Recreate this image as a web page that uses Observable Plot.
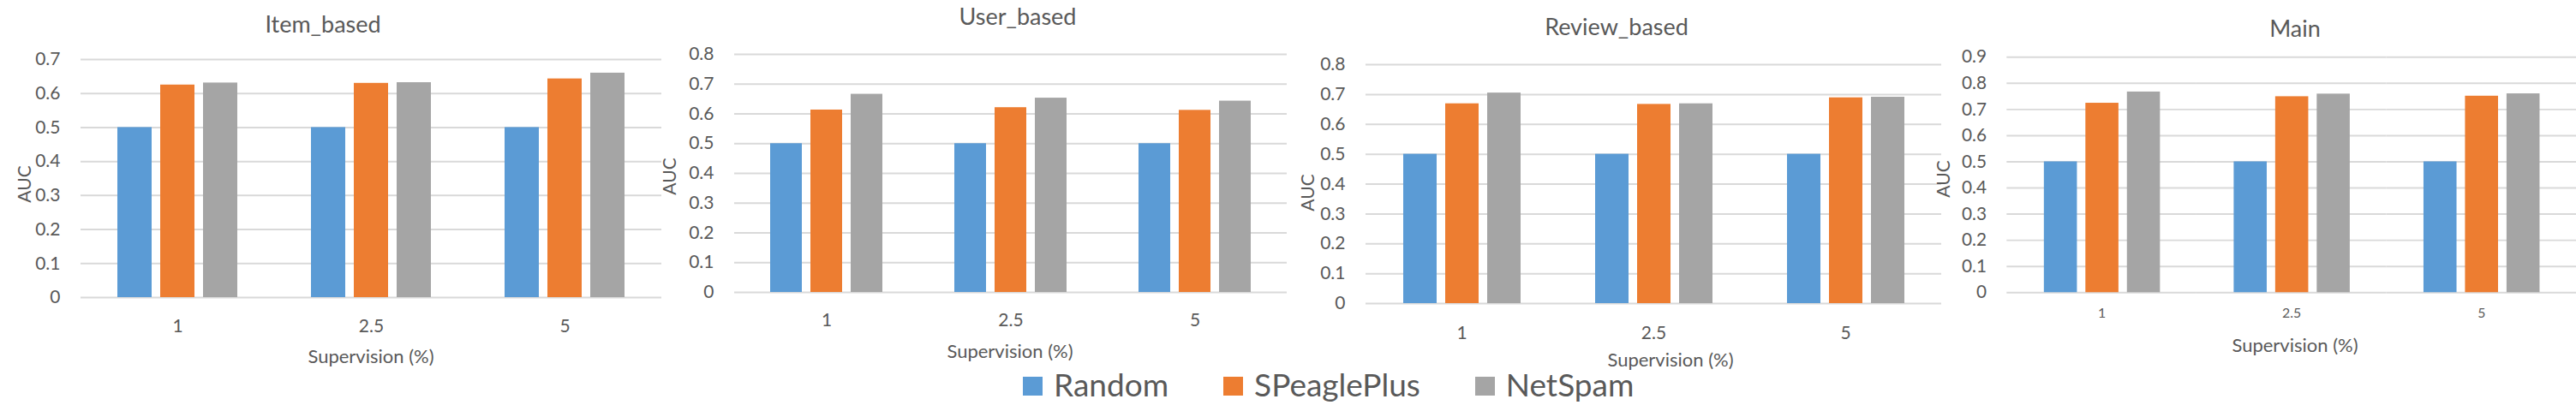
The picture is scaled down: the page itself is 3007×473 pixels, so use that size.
<!DOCTYPE html>
<html>
<head>
<meta charset="utf-8">
<script src="https://cdn.jsdelivr.net/npm/d3@7"></script>
<script src="https://cdn.jsdelivr.net/npm/@observablehq/plot@0.6"></script>
<style>
  html, body { margin: 0; padding: 0; background: #fff; }
  #page { position: relative; width: 3007px; height: 473px; overflow: hidden;
          font-family: Lato, "Open Sans", sans-serif; color: #595959; }
  .panel { position: absolute; top: 0; }
  .lbl { position: absolute; white-space: nowrap; line-height: 1; transform: translate(-50%, -50%); }
  .title { font-size: 27px; }
  .xlab { font-size: 22px; }
  .ylab { font-size: 21px; transform: translate(-50%, -50%) rotate(-90deg); }
  #legend { position: absolute; left: 1194px; top: 430px; display: flex; gap: 64px; }
  #legend .item { display: flex; align-items: flex-start; }
  #legend .sw { width: 23px; height: 22px; margin-top: 10px; margin-right: 13px; }
  #legend .txt { font-size: 37px; line-height: 37px; }
</style>
</head>
<body>
<div id="page"></div>
<script>
// Categories and series
const supervision = ["1", "2.5", "5"];
const methods = ["Random", "SPeaglePlus", "NetSpam"];
const methodColors = ["#5b9bd5", "#ed7d31", "#a5a5a5"];
const panelTitles = ["Item_based", "User_based", "Review_based", "Main"];
const xAxisTitle = "Supervision (%)";
const yAxisTitle = "AUC";

// AUC per supervision level (1, 2.5, 5)
const itemRandom      = [0.5, 0.5, 0.5];
const itemSPeaglePlus = [0.625, 0.630, 0.643];
const itemNetSpam     = [0.631, 0.632, 0.660];

const userRandom      = [0.5, 0.5, 0.5];
const userSPeaglePlus = [0.613, 0.621, 0.612];
const userNetSpam     = [0.666, 0.653, 0.643];

const reviewRandom      = [0.5, 0.5, 0.5];
const reviewSPeaglePlus = [0.669, 0.667, 0.689];
const reviewNetSpam     = [0.705, 0.669, 0.691];

const mainRandom      = [0.5, 0.5, 0.5];
const mainSPeaglePlus = [0.724, 0.749, 0.751];
const mainNetSpam     = [0.767, 0.759, 0.760];

// Y-axis tick values
const itemTicks   = [0, 0.1, 0.2, 0.3, 0.4, 0.5, 0.6, 0.7];
const userTicks   = [0, 0.1, 0.2, 0.3, 0.4, 0.5, 0.6, 0.7, 0.8];
const reviewTicks = [0, 0.1, 0.2, 0.3, 0.4, 0.5, 0.6, 0.7, 0.8];
const mainTicks   = [0, 0.1, 0.2, 0.3, 0.4, 0.5, 0.6, 0.7, 0.8, 0.9];

// Panel layout (page pixels)
const layouts = [
  { left: 0,    width: 780, ml: 94, mr: 8, mt: 69, mb: 126, xFont: 21, xPad: 26,
    title: [377, 26.5], xlab: [433, 416], ylab: [27, 215] },
  { left: 780,  width: 730, ml: 76, mr: 8, mt: 63, mb: 132, xFont: 21, xPad: 25,
    title: [1188, 18], xlab: [1179, 410], ylab: [780, 206] },
  { left: 1510, width: 765, ml: 83, mr: 8, mt: 75, mb: 119, xFont: 21, xPad: 27,
    title: [1887, 29.7], xlab: [1950, 420], ylab: [1525, 225] },
  { left: 2280, width: 735, ml: 63, mr: 0, mt: 67, mb: 128, xFont: 16, xPad: 18,
    title: [2679, 32], xlab: [2679, 403], ylab: [2267, 209] }
];

const panelSeries = [
  [itemRandom, itemSPeaglePlus, itemNetSpam],
  [userRandom, userSPeaglePlus, userNetSpam],
  [reviewRandom, reviewSPeaglePlus, reviewNetSpam],
  [mainRandom, mainSPeaglePlus, mainNetSpam]
];
const panelTicks = [itemTicks, userTicks, reviewTicks, mainTicks];

const page = document.getElementById("page");

function addLabel(cls, text, [x, y]) {
  const d = document.createElement("div");
  d.className = "lbl " + cls;
  d.textContent = text;
  d.style.left = x + "px";
  d.style.top = y + "px";
  page.appendChild(d);
}

panelTitles.forEach((title, p) => {
  const cfg = layouts[p];
  const series = panelSeries[p];
  const ticks = panelTicks[p];
  const rows = [];
  supervision.forEach((s, i) => {
    methods.forEach((m, j) => rows.push({ sup: s, method: m, auc: series[j][i] }));
  });

  const chart = Plot.plot({
    width: cfg.width,
    height: 473,
    marginLeft: cfg.ml,
    marginRight: cfg.mr,
    marginTop: cfg.mt,
    marginBottom: cfg.mb,
    style: { fontFamily: "Lato, 'Open Sans', sans-serif", color: "#595959", background: "transparent", overflow: "visible" },
    fx: { domain: supervision, padding: 0, label: null },
    x: { domain: methods, paddingInner: 0.21, paddingOuter: 0.865, axis: null },
    y: { domain: [0, ticks[ticks.length - 1]], label: null },
    color: { domain: methods, range: methodColors },
    marks: [
      Plot.gridY(ticks, { stroke: "#d9d9d9", strokeOpacity: 1, strokeWidth: 2 }),
      Plot.barY(rows, { fx: "sup", x: "method", y: "auc", fill: "method" }),
      Plot.axisY(ticks, { tickSize: 0, tickPadding: 24, fontSize: 21, label: null, fill: "#595959",
                          tickFormat: d => String(d) }),
      Plot.axisFx({ anchor: "bottom", tickSize: 0, tickPadding: cfg.xPad, fontSize: cfg.xFont, label: null, fill: "#595959" })
    ]
  });

  const wrap = document.createElement("div");
  wrap.className = "panel";
  wrap.style.left = cfg.left + "px";
  wrap.appendChild(chart);
  page.appendChild(wrap);

  addLabel("title", title, cfg.title);
  addLabel("xlab", xAxisTitle, cfg.xlab);
  addLabel("ylab", yAxisTitle, cfg.ylab);
});

// Shared legend
const legend = document.createElement("div");
legend.id = "legend";
methods.forEach((m, j) => {
  const item = document.createElement("div");
  item.className = "item";
  const sw = document.createElement("div");
  sw.className = "sw";
  sw.style.background = methodColors[j];
  const txt = document.createElement("div");
  txt.className = "txt";
  txt.textContent = m;
  item.appendChild(sw);
  item.appendChild(txt);
  legend.appendChild(item);
});
page.appendChild(legend);
</script>
</body>
</html>
